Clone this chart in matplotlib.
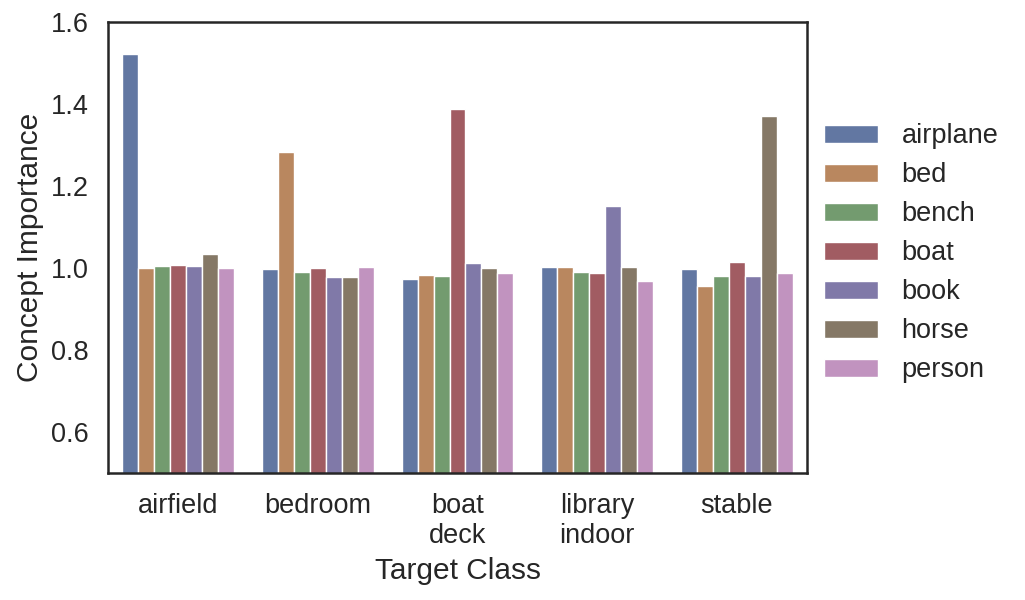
import numpy as np
import matplotlib
matplotlib.use("Agg")
import matplotlib.pyplot as plt

targets = ["airfield", "bedroom", "boat\ndeck", "library\nindoor", "stable"]
concepts = ["airplane", "bed", "bench", "boat", "book", "horse", "person"]

# importance per concept, one value per target class
airplane = [1.522, 0.998, 0.974, 1.002, 0.999]
bed      = [1.000, 1.284, 0.983, 1.002, 0.957]
bench    = [1.006, 0.991, 0.980, 0.991, 0.981]
boat     = [1.008, 1.001, 1.389, 0.987, 1.014]
book     = [1.006, 0.978, 1.013, 1.152, 0.982]
horse    = [1.035, 0.978, 1.000, 1.003, 1.372]
person   = [1.000, 1.003, 0.987, 0.969, 0.987]
values = [airplane, bed, bench, boat, book, horse, person]

# muted "deep" palette as it appears in the figure
colors = ["#6277a2", "#b9875f", "#739b6f", "#a15c62", "#8079a8", "#857866", "#c193bf"]

plt.rcParams["font.family"] = ["Liberation Sans", "DejaVu Sans"]
text_col = "#262626"
tick_fs = 19.5
label_fs = 21.5

fig = plt.figure(figsize=(10.25, 6), dpi=100)
ax = fig.add_axes([0.1057, 0.2112, 0.6813, 0.7521])

x = np.arange(len(targets))
n = len(concepts)
w = 0.8 / n
for i, (name, vals, col) in enumerate(zip(concepts, values, colors)):
    ax.bar(x - 0.4 + w * (i + 0.5), vals, width=w, color=col,
           edgecolor="white", linewidth=1.0, label=name)

ax.set_xlim(-0.5, 4.5)
ax.set_ylim(0.5, 1.6)
ax.set_yticks([0.6, 0.8, 1.0, 1.2, 1.4, 1.6])
ax.set_xticks(x)
ax.set_xticklabels(targets, linespacing=1.2)
ax.tick_params(length=0, labelsize=tick_fs, colors=text_col)
ax.tick_params(axis="y", pad=14)
ax.tick_params(axis="x", pad=14)
for s in ax.spines.values():
    s.set_color(text_col)
    s.set_linewidth(1.8)

ax.set_ylabel("Concept Importance", fontsize=label_fs, color=text_col, labelpad=5)
ax.set_xlabel("Target Class", fontsize=label_fs, color=text_col, labelpad=6)

leg = ax.legend(loc="center left", bbox_to_anchor=(1.0, 0.488), frameon=False,
                fontsize=tick_fs, handlelength=2.0, handleheight=0.65,
                labelspacing=0.48, handletextpad=0.85, borderaxespad=0.25)
for t in leg.get_texts():
    t.set_color(text_col)

fig.savefig("out.png", dpi=100)
